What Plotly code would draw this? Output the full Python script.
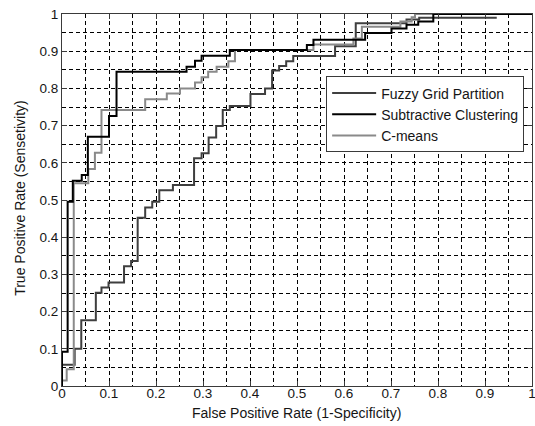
import plotly.graph_objects as go

# ROC step points (FPR, TPR): vertical rise happens at each x, horizontal run between
fuzzy_fpr = [0, 0, 0.027, 0.041, 0.072, 0.084, 0.099, 0.132, 0.147, 0.161, 0.177, 0.192,
             0.207, 0.236, 0.281, 0.297, 0.312, 0.328, 0.342, 0.357, 0.401, 0.432, 0.447,
             0.462, 0.477, 0.492, 0.581, 0.625, 0.733, 0.76, 0.925]
fuzzy_tpr = [0, 0.057, 0.10, 0.177, 0.251, 0.265, 0.278, 0.322, 0.336, 0.452, 0.48, 0.495,
             0.526, 0.54, 0.612, 0.626, 0.668, 0.699, 0.742, 0.753, 0.785, 0.80, 0.848,
             0.86, 0.873, 0.887, 0.913, 0.975, 0.985, 0.99, 0.99]

subtr_fpr = [0, 0, 0.012, 0.023, 0.042, 0.055, 0.1, 0.116, 0.265, 0.283, 0.297, 0.357,
             0.521, 0.535, 0.645, 0.701, 0.733, 0.758, 0.79, 1.0]
subtr_tpr = [0, 0.092, 0.495, 0.552, 0.567, 0.670, 0.726, 0.845, 0.858, 0.874, 0.888, 0.903,
             0.917, 0.931, 0.949, 0.961, 0.971, 0.98, 1.0, 1.0]

cmeans_fpr = [0, 0, 0.01, 0.025, 0.056, 0.07, 0.084, 0.177, 0.223, 0.251, 0.283, 0.297,
              0.311, 0.329, 0.354, 0.368, 0.535, 0.62, 0.638, 0.72, 0.744, 0.751, 1.0]
cmeans_tpr = [0, 0.015, 0.045, 0.545, 0.583, 0.627, 0.742, 0.771, 0.786, 0.80, 0.816, 0.830,
              0.845, 0.858, 0.873, 0.903, 0.918, 0.934, 0.966, 0.98, 0.991, 1.0, 1.0]

series_names = ["Fuzzy Grid Partition", "Subtractive Clustering", "C-means"]
tick_vals = [0, 0.1, 0.2, 0.3, 0.4, 0.5, 0.6, 0.7, 0.8, 0.9, 1]
tick_text = ["0", "0.1", "0.2", "0.3", "0.4", "0.5", "0.6", "0.7", "0.8", "0.9", "1"]
x_title = "False Positive Rate (1-Specificity)"
y_title = "True Positive Rate (Sensetivity)"

FONT = "Arial, Liberation Sans, sans-serif"
TXT = "#151515"

fig = go.Figure()
fig.add_trace(go.Scatter(x=fuzzy_fpr, y=fuzzy_tpr, mode="lines", name=series_names[0],
                         line=dict(color="#3f3f3f", width=2, shape="hv")))
fig.add_trace(go.Scatter(x=cmeans_fpr, y=cmeans_tpr, mode="lines", name=series_names[2],
                         line=dict(color="#8a8a8a", width=2, shape="hv"), showlegend=False,
                         legendgroup="c"))
fig.add_trace(go.Scatter(x=subtr_fpr, y=subtr_tpr, mode="lines", name=series_names[1],
                         line=dict(color="#000000", width=2, shape="hv")))
fig.add_trace(go.Scatter(x=[None], y=[None], mode="lines", name=series_names[2],
                         line=dict(color="#8a8a8a", width=2), legendgroup="c"))

axis_common = dict(
    range=[0, 1], tickmode="array", tickvals=tick_vals, ticktext=tick_text,
    showline=True, linecolor="#3a3a3a", linewidth=1, mirror="ticks",
    ticks="inside", ticklen=5, tickcolor="#3a3a3a", tickwidth=1,
    showgrid=True, gridcolor="#000000", gridwidth=1, griddash="4px,3px",
    minor=dict(dtick=0.05, tick0=0, showgrid=True, gridcolor="#000000", gridwidth=1,
               griddash="4px,3px", ticks=""),
    zeroline=False, tickfont=dict(family=FONT, size=13.5, color=TXT),
    fixedrange=True, automargin=False, ticklabeloverflow="allow",
)

fig.update_xaxes(**axis_common, ticklabelstandoff=-5)
fig.update_yaxes(**axis_common)

fig.update_layout(
    width=535, height=426,
    margin=dict(l=62, r=3, t=14, b=40),
    paper_bgcolor="white", plot_bgcolor="white",
    font=dict(family=FONT, size=14, color=TXT),
    legend=dict(x=0.562, y=0.832, xanchor="left", yanchor="top",
                bgcolor="white", bordercolor="#3a3a3a", borderwidth=1,
                font=dict(family=FONT, size=14, color=TXT),
                tracegroupgap=0, itemwidth=44),
    showlegend=True,
    hovermode=False,
    annotations=[
        dict(text=x_title, xref="paper", yref="paper", x=0.498, y=-0.072,
             xanchor="center", yanchor="middle", showarrow=False,
             font=dict(family=FONT, size=14, color=TXT)),
        dict(text=y_title, xref="paper", yref="paper", x=-0.09, y=0.505,
             xanchor="center", yanchor="middle", showarrow=False, textangle=-90,
             font=dict(family=FONT, size=14, color=TXT)),
    ],
)

# remove the browser's default 8px page margin so the 535x426 figure fills the window exactly
fig.write_html("out.html", config={"displayModeBar": False, "staticPlot": True},
               post_script="document.body.style.margin='0';")
